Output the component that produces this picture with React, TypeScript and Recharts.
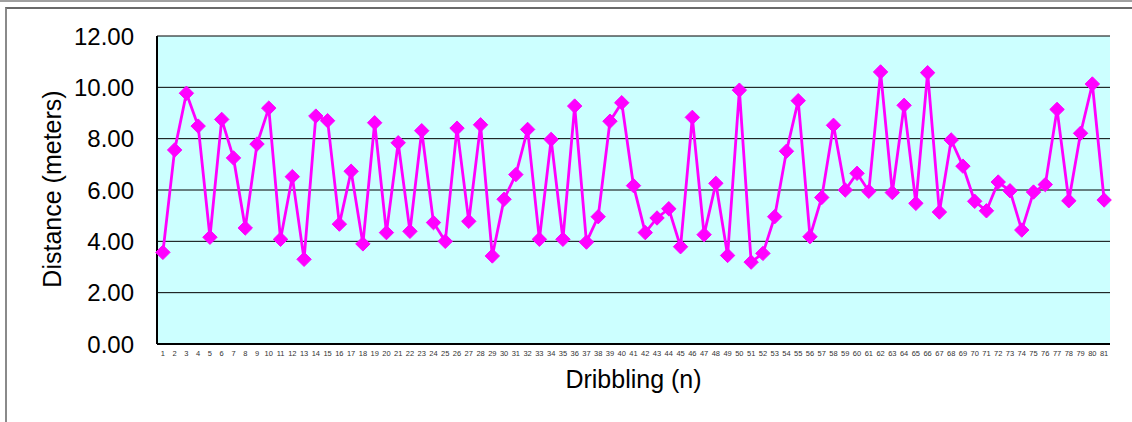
import React from 'react';
import { LineChart, Line, XAxis, YAxis, CartesianGrid, Label } from 'recharts';

const trials: string[] = Array.from({ length: 81 }, (_, i) => String(i + 1));

const distances: number[] = [
  3.57, 7.56, 9.77, 8.49, 4.16, 8.75, 7.25, 4.52, 7.79, 9.19,
  4.08, 6.52, 3.30, 8.88, 8.70, 4.67, 6.73, 3.90, 8.62, 4.34,
  7.84, 4.39, 8.31, 4.73, 4.00, 8.41, 4.78, 8.54, 3.43, 5.64,
  6.60, 8.36, 4.08, 7.97, 4.08, 9.27, 3.97, 4.96, 8.68, 9.40,
  6.17, 4.34, 4.91, 5.27, 3.79, 8.83, 4.26, 6.26, 3.45, 9.89,
  3.19, 3.53, 4.96, 7.51, 9.48, 4.18, 5.71, 8.52, 6.00, 6.65,
  5.95, 10.60, 5.90, 9.30, 5.48, 10.57, 5.14, 7.95, 6.93, 5.56,
  5.19, 6.31, 5.97, 4.44, 5.92, 6.21, 9.14, 5.58, 8.21, 10.13,
  5.61,
];

const yTicks: number[] = [0, 2, 4, 6, 8, 10, 12];

const data = trials.map((t, i) => ({ trial: t, distance: distances[i] }));

const FONT = '"Liberation Sans", Arial, sans-serif';

const Diamond = (props: any) => {
  const { cx, cy } = props;
  if (cx == null || cy == null) return null;
  const r = 7.2;
  return (
    <polygon
      points={`${cx},${cy - r} ${cx + r},${cy} ${cx},${cy + r} ${cx - r},${cy}`}
      fill="#FF00FF"
      stroke="#FF00FF"
      strokeWidth={1}
    />
  );
};

const YTitle = (props: any) => {
  const vb = props.viewBox || {};
  const x = 52;
  const y = vb.y + vb.height / 2 - 1;
  return (
    <text
      x={x}
      y={y}
      transform={`rotate(-90, ${x}, ${y})`}
      textAnchor="middle"
      dominantBaseline="central"
      fontSize={25}
      fontFamily={FONT}
      fill="#000"
    >
      Distance (meters)
    </text>
  );
};

export default function App() {
  return (
    <div style={{ position: 'absolute', left: 0, top: 0, width: 1132, height: 422, overflow: 'hidden', background: '#fff' }}>
      <div style={{ position: 'absolute', left: 0, top: 0, width: 1132, height: 2, background: '#a0a0a0' }} />
      <div
        style={{
          position: 'absolute',
          left: 5,
          top: 7,
          width: 1300,
          height: 600,
          borderTop: '2px solid #6a6a6a',
          borderLeft: '2px solid #8a8a8a',
        }}
      />
      <div style={{ position: 'absolute', left: 0, top: 0 }}>
        <LineChart
          width={1132}
          height={422}
          data={data}
          margin={{ top: 36, right: 22, bottom: 0, left: 0 }}
          style={{ fontFamily: FONT }}
        >
          <CartesianGrid vertical={false} stroke="#000" strokeWidth={1} fill="#CCFFFF" fillOpacity={1} />
          <XAxis
            dataKey="trial"
            scale="band"
            interval={0}
            height={78}
            tickLine={false}
            tickSize={0}
            tickMargin={7}
            axisLine={{ stroke: '#000', strokeWidth: 2 }}
            tick={{ fontSize: 7.5, fill: '#333', fontFamily: FONT }}
          >
            <Label value="Dribbling (n)" position="insideBottom" offset={34} fontSize={25} fill="#000" fontFamily={FONT} />
          </XAxis>
          <XAxis xAxisId="top" dataKey="trial" scale="band" orientation="top" height={0} tick={false} tickLine={false} axisLine={{ stroke: '#808080', strokeWidth: 2 }} />
          <YAxis
            width={157}
            domain={[0, 12]}
            ticks={yTicks}
            tickFormatter={(v: number) => v.toFixed(2)}
            tickLine={false}
            tickSize={0}
            tickMargin={23}
            axisLine={{ stroke: '#000', strokeWidth: 2 }}
            tick={{ fontSize: 24, fill: '#000', fontFamily: FONT }}
            label={<YTitle />}
          />
          <YAxis yAxisId="r" orientation="right" width={0} domain={[0, 12]} tick={false} tickLine={false} axisLine={{ stroke: '#808080', strokeWidth: 2 }} />
          <Line
            type="linear"
            dataKey="distance"
            stroke="#FF00FF"
            strokeWidth={2.8}
            dot={<Diamond />}
            activeDot={false}
            isAnimationActive={false}
          />
        </LineChart>
      </div>
    </div>
  );
}
